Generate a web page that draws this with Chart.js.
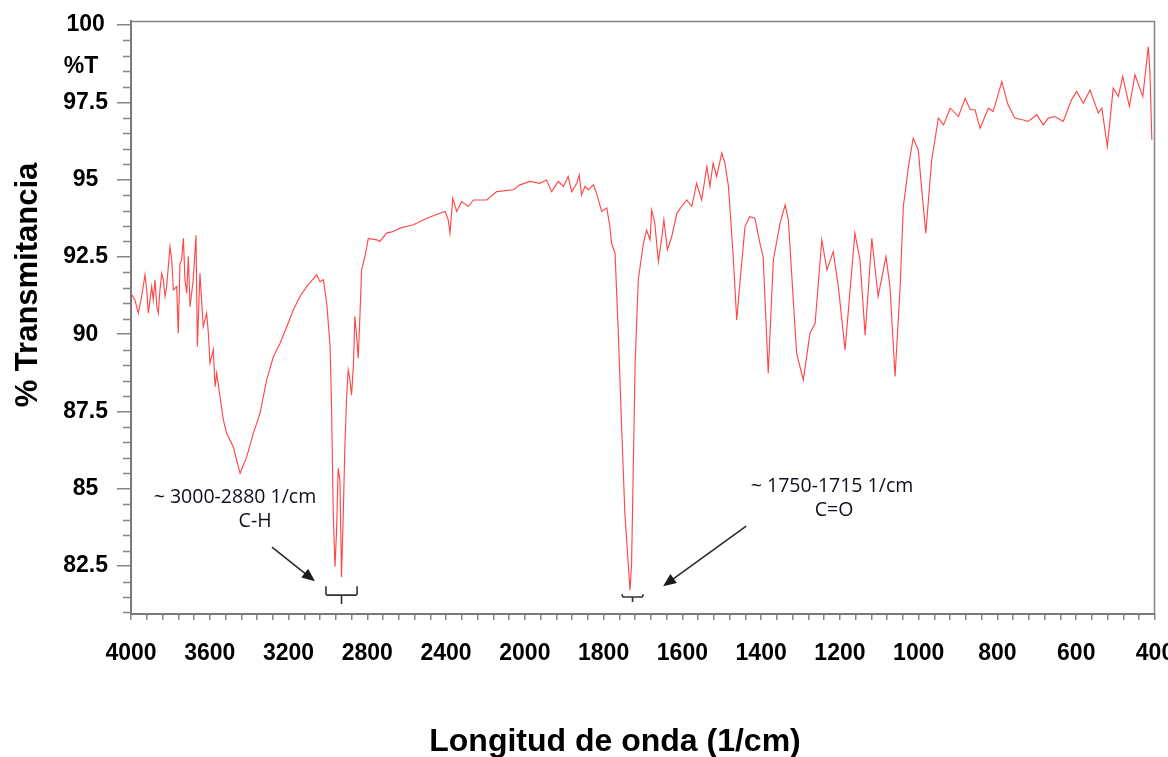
<!DOCTYPE html>
<html>
<head>
<meta charset="utf-8">
<script src="https://cdn.jsdelivr.net/npm/chart.js@4.4.1/dist/chart.umd.min.js"></script>
<style>
  html, body { margin: 0; padding: 0; background: #fff; }
</style>
</head>
<body>
<canvas id="irChart" width="1168" height="757"></canvas>
<script>
// IR spectrum (wavenumber in 1/cm, %T)
const WAVENUMBER = [
  3996, 3980, 3963, 3946, 3929, 3920, 3912, 3895, 3887, 3878, 3869, 3861, 3853, 3844, 3836, 3827,
  3819, 3802, 3793, 3785, 3768, 3760, 3751, 3743, 3734, 3726, 3717, 3709, 3700, 3684, 3670, 3663,
  3650, 3633, 3616, 3607, 3599, 3582, 3573, 3565, 3548, 3531, 3514, 3481, 3446, 3412, 3379, 3345,
  3311, 3277, 3243, 3209, 3176, 3142, 3108, 3057, 3040, 3023, 3006, 2989, 2981, 2973, 2964, 2956,
  2948, 2939, 2931, 2922, 2914, 2905, 2897, 2888, 2880, 2871, 2863, 2854, 2846, 2837, 2829, 2812,
  2795, 2752, 2736, 2702, 2668, 2634, 2566, 2498, 2431, 2405, 2389, 2380, 2366, 2346, 2321, 2287,
  2261, 2193, 2143, 2058, 2025, 1987, 1962, 1945, 1932, 1915, 1902, 1890, 1881, 1868, 1862, 1856,
  1847, 1839, 1826, 1818, 1805, 1792, 1784, 1780, 1771, 1763, 1754, 1746, 1733, 1729, 1720, 1712,
  1699, 1691, 1682, 1678, 1670, 1661, 1653, 1647, 1638, 1627, 1614, 1602, 1589, 1576, 1564, 1551,
  1538, 1530, 1522, 1513, 1500, 1492, 1483, 1471, 1462, 1454, 1441, 1429, 1416, 1403, 1395, 1382,
  1369, 1352, 1339, 1331, 1310, 1293, 1276, 1263, 1246, 1233, 1217, 1204, 1187, 1162, 1149, 1136,
  1119, 1103, 1083, 1073, 1060, 1047, 1039, 1026, 1014, 1001, 993, 982, 967, 950, 937, 920,
  899, 882, 869, 857, 844, 823, 811, 789, 773, 756, 734, 722, 700, 684, 671, 654,
  633, 612, 599, 582, 565, 544, 535, 521, 506, 493, 482, 465, 451, 431, 417, 413, 408
];
const TRANSMITTANCE = [
  91.27, 91.11, 90.68, 91.22, 91.92, 91.43, 90.68, 91.54, 91.11, 91.76, 90.89, 90.68, 91.43, 91.97, 91.76, 91.22,
  91.54, 92.83, 92.40, 91.43, 91.54, 90.03, 92.30, 92.40, 93.10, 91.76, 91.33, 92.51, 90.89, 91.76, 93.20, 89.60,
  91.97, 90.24, 90.68, 90.03, 89.06, 89.49, 88.30, 88.74, 87.98, 87.23, 86.79, 86.36, 85.50, 86.04, 86.79, 87.44,
  88.52, 89.27, 89.71, 90.24, 90.78, 91.22, 91.54, 91.92, 91.70, 91.76, 91.00, 89.60, 87.44, 84.20, 82.48, 83.66,
  85.66, 85.28, 82.15, 84.20, 86.36, 87.98, 88.84, 88.52, 88.03, 88.95, 90.57, 89.92, 89.22, 90.68, 92.08, 92.51,
  93.10, 93.05, 93.00, 93.27, 93.32, 93.43, 93.54, 93.75, 93.91, 93.97, 93.70, 93.27, 94.40, 93.97, 94.29, 94.13,
  94.34, 94.34, 94.61, 94.67, 94.83, 94.94, 94.88, 94.99, 94.61, 94.94, 94.78, 95.10, 94.61, 94.88, 95.15, 94.51,
  94.78, 94.67, 94.83, 94.56, 93.97, 94.08, 93.48, 92.94, 92.62, 90.14, 86.90, 84.20, 81.72, 82.58, 89.06, 91.76,
  92.94, 93.37, 93.05, 94.02, 93.59, 92.35, 93.05, 93.70, 92.73, 93.16, 93.91, 94.13, 94.34, 94.13, 94.88, 94.34,
  95.42, 94.78, 95.53, 95.10, 95.86, 95.53, 94.78, 92.51, 90.46, 91.65, 93.48, 93.80, 93.75, 92.94, 92.51, 88.74,
  92.40, 93.59, 94.18, 93.70, 89.38, 88.52, 90.03, 90.35, 93.05, 92.08, 92.67, 91.54, 89.49, 93.27, 92.40, 89.97,
  93.10, 91.22, 92.51, 91.54, 88.63, 91.54, 94.13, 95.42, 96.34, 95.96, 94.78, 93.27, 95.64, 96.99, 96.77, 97.31,
  97.04, 97.63, 97.26, 97.26, 96.66, 97.31, 97.20, 98.17, 97.42, 96.99, 96.93, 96.88, 97.10, 96.77, 96.99, 97.04,
  96.88, 97.58, 97.85, 97.47, 97.90, 97.15, 97.31, 96.07, 97.96, 97.69, 98.34, 97.37, 98.39, 97.69, 99.30, 98.50, 96.29
];

const X_LABELS = [4000, 3600, 3200, 2800, 2400, 2000, 1800, 1600, 1400, 1200, 1000, 800, 600, 400];
const Y_LABELS = [82.5, 85, 87.5, 90, 92.5, 95, 97.5, 100];

// band annotations: text, arrow from -> to, bracket range (all in data units)
const BAND_TEXT = [
  { text: '~ 3000-2880 1/cm', at: [3472, 84.73] },
  { text: 'C-H', at: [3370, 83.96] },
  { text: '~ 1750-1715 1/cm', at: [1220, 85.06] },
  { text: 'C=O', at: [1215, 84.31] }
];
const BAND_ARROWS = [
  [[3284, 83.11], [3066, 82.01]],
  [[1438, 83.79], [1649, 81.85]]
];
const BAND_BRACKETS = [
  { from: 3010, to: 2852, levels: [81.85, 81.56, 81.27] },
  { from: 1753, to: 1700, levels: [81.59, 81.50, 81.34] }
];

// x axis: 4000-2000 at one scale, 2000-400 expanded twice
const X_MAX = 4000, X_BREAK = 2000, X_MIN = 400;
const X_SPAN = (X_MAX - X_BREAK) + (X_BREAK - X_MIN) * 2;

class SplitScale extends Chart.LinearScale {
  static id = 'split';
  static defaults = Chart.LinearScale.defaults;
  getPixelForValue(v) {
    if (v === null || v === undefined) return NaN;
    const u = v >= X_BREAK ? (X_MAX - v) : (X_MAX - X_BREAK) + (X_BREAK - v) * 2;
    return this.getPixelForDecimal(u / X_SPAN);
  }
  getValueForPixel(p) {
    const u = this.getDecimalForPixel(p) * X_SPAN;
    return u <= X_MAX - X_BREAK ? X_MAX - u : X_BREAK - (u - (X_MAX - X_BREAK)) / 2;
  }
}
Chart.register(SplitScale);

const xTicks = [];
for (let v = X_MAX; v > X_BREAK; v -= 80) xTicks.push(v);
for (let v = X_BREAK; v >= X_MIN; v -= 40) xTicks.push(v);

const AXIS_GREY = '#858585';

const drawArrow = (ctx, x1, y1, x2, y2) => {
  const ang = Math.atan2(y2 - y1, x2 - x1);
  const head = 13, half = 5.5;
  ctx.beginPath();
  ctx.moveTo(x1, y1);
  ctx.lineTo(x2 - Math.cos(ang) * head * 0.8, y2 - Math.sin(ang) * head * 0.8);
  ctx.stroke();
  ctx.beginPath();
  ctx.moveTo(x2, y2);
  ctx.lineTo(x2 - Math.cos(ang) * head + Math.sin(ang) * half, y2 - Math.sin(ang) * head - Math.cos(ang) * half);
  ctx.lineTo(x2 - Math.cos(ang) * head - Math.sin(ang) * half, y2 - Math.sin(ang) * head + Math.cos(ang) * half);
  ctx.closePath();
  ctx.fill();
};

const decorations = {
  id: 'decorations',
  afterDraw(chart) {
    const { ctx, chartArea: a, scales: { x, y } } = chart;
    ctx.save();

    // top and right frame
    ctx.strokeStyle = AXIS_GREY;
    ctx.lineWidth = 1.5;
    ctx.beginPath();
    ctx.moveTo(a.left, a.top + 0.5);
    ctx.lineTo(a.right - 0.5, a.top + 0.5);
    ctx.lineTo(a.right - 0.5, a.bottom);
    ctx.stroke();

    // minor y ticks
    ctx.beginPath();
    for (let v = 81; v <= 100; v += 0.5) {
      if (Y_LABELS.includes(v)) continue;
      const py = Math.round(y.getPixelForValue(v)) + 0.5;
      ctx.moveTo(a.left - 8, py);
      ctx.lineTo(a.left, py);
    }
    ctx.stroke();

    // axis titles
    ctx.fillStyle = '#000';
    ctx.textAlign = 'center';
    ctx.textBaseline = 'middle';
    ctx.font = 'bold 32px "Liberation Sans", Arial, sans-serif';
    ctx.fillText('Longitud de onda (1/cm)', 615, 742);
    ctx.save();
    ctx.translate(28, 285);
    ctx.rotate(-Math.PI / 2);
    ctx.font = 'bold 31px "Liberation Sans", Arial, sans-serif';
    ctx.fillText('% Transmitancia', 0, 0);
    ctx.restore();

    ctx.font = 'bold 23px "Liberation Sans", Arial, sans-serif';
    ctx.fillText('%T', 81, y.getPixelForValue(98.65));

    // band annotations
    ctx.fillStyle = '#10101c';
    ctx.font = '19.5px "Open Sans", sans-serif';
    BAND_TEXT.forEach(t => {
      ctx.fillText(t.text, x.getPixelForValue(t.at[0]), y.getPixelForValue(t.at[1]));
    });

    ctx.strokeStyle = '#2b2b2b';
    ctx.fillStyle = '#1a1a1a';
    ctx.lineWidth = 1.6;
    BAND_ARROWS.forEach(([p, q]) => {
      drawArrow(ctx, x.getPixelForValue(p[0]), y.getPixelForValue(p[1]),
                     x.getPixelForValue(q[0]), y.getPixelForValue(q[1]));
    });

    ctx.strokeStyle = '#333';
    ctx.lineWidth = 1.6;
    BAND_BRACKETS.forEach(b => {
      const l = x.getPixelForValue(b.from), r = x.getPixelForValue(b.to);
      const c = (l + r) / 2;
      const [yt, ym, yb] = b.levels.map(v => y.getPixelForValue(v));
      ctx.beginPath();
      ctx.moveTo(l, yt);
      ctx.lineTo(l, ym - 2);
      ctx.quadraticCurveTo(l, ym, l + 2, ym);
      ctx.lineTo(r - 2, ym);
      ctx.quadraticCurveTo(r, ym, r, ym - 2);
      ctx.lineTo(r, yt);
      ctx.moveTo(c, ym);
      ctx.lineTo(c, yb);
      ctx.stroke();
    });

    ctx.restore();
  }
};

const points = WAVENUMBER.map((w, i) => ({ x: w, y: TRANSMITTANCE[i] }));

new Chart(document.getElementById('irChart').getContext('2d'), {
  type: 'line',
  data: {
    datasets: [{
      label: '%T',
      data: points,
      borderColor: 'rgba(255, 0, 0, 0.72)',
      borderWidth: 1.15,
      pointRadius: 0,
      tension: 0,
      fill: false
    }]
  },
  options: {
    responsive: false,
    animation: false,
    devicePixelRatio: 1,
    layout: { padding: { top: 21, right: 13, left: 0, bottom: 0 } },
    plugins: {
      legend: { display: false },
      tooltip: { enabled: false }
    },
    scales: {
      x: {
        type: 'split',
        min: X_MIN,
        max: X_MAX,
        afterBuildTicks: (axis) => { axis.ticks = xTicks.map(v => ({ value: v })); },
        afterFit: (axis) => { axis.height = 143; axis.paddingLeft = 0; axis.paddingRight = 0; },
        grid: { drawOnChartArea: false, tickLength: 6, color: AXIS_GREY, lineWidth: 1.5 },
        border: { color: '#7a7a7a', width: 2 },
        ticks: {
          autoSkip: false,
          maxRotation: 0,
          minRotation: 0,
          padding: 20,
          color: '#000',
          font: { family: '"Liberation Sans", Arial, sans-serif', size: 23, weight: 'bold' },
          callback: (v) => X_LABELS.includes(v) ? String(v) : ''
        }
      },
      y: {
        type: 'linear',
        min: 80.95,
        max: 100.13,
        afterBuildTicks: (axis) => { axis.ticks = Y_LABELS.map(v => ({ value: v })); },
        afterFit: (axis) => { axis.width = 131; axis.paddingTop = 0; axis.paddingBottom = 0; },
        grid: { drawOnChartArea: false, tickLength: 14, color: AXIS_GREY, lineWidth: 1.5 },
        border: { color: '#7a7a7a', width: 2 },
        ticks: {
          crossAlign: 'center',
          padding: 9,
          color: '#000',
          font: { family: '"Liberation Sans", Arial, sans-serif', size: 23, weight: 'bold' },
          callback: (v) => String(v)
        }
      }
    }
  },
  plugins: [decorations]
});
</script>
</body>
</html>
